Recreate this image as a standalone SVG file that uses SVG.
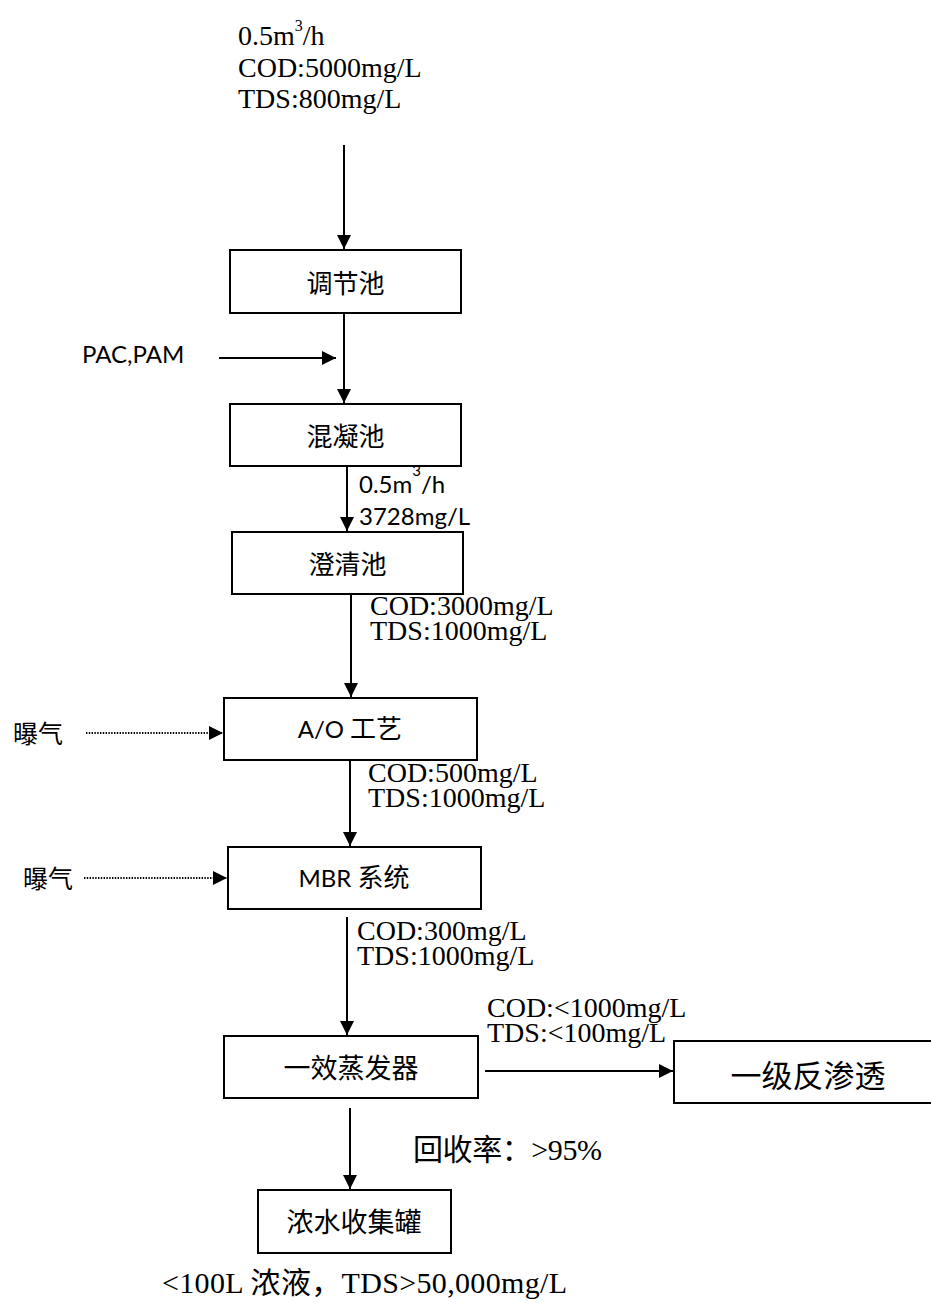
<svg xmlns="http://www.w3.org/2000/svg" width="931" height="1302" viewBox="0 0 931 1302">
<style>
.box{fill:#fff;stroke:#000;stroke-width:2}
.ln{stroke:#000;stroke-width:2;fill:none}
.dot{stroke:#000;stroke-width:1.8;fill:none;stroke-dasharray:1.4 1.4}
.ser{font-family:"Liberation Serif","Noto Sans CJK SC",serif;font-size:28px;fill:#000}
.cal{font-family:Lato,"Liberation Sans",sans-serif;font-size:24px;fill:#000}
.cjk{font-family:"Noto Sans CJK SC",sans-serif;fill:#000;dominant-baseline:central}
.mix{font-family:"Liberation Serif","Noto Sans CJK SC",serif;fill:#000;dominant-baseline:central}
.lbl{font-family:Lato,"Noto Sans CJK SC",sans-serif;fill:#000;dominant-baseline:central;font-size:24px}
</style>
<defs>
<marker id="ah" markerUnits="userSpaceOnUse" markerWidth="15" markerHeight="14" refX="14" refY="7" orient="auto">
<path d="M0,0 L14,7 L0,14 z" fill="#000"/>
</marker>
</defs>
<rect width="931" height="1302" fill="#fff"/>

<g id="connectors">
<line class="ln" x1="344" y1="145" x2="344" y2="249" marker-end="url(#ah)"/>
<line class="ln" x1="344" y1="313" x2="344" y2="403" marker-end="url(#ah)"/>
<line class="ln" x1="219" y1="358" x2="336" y2="358" marker-end="url(#ah)"/>
<line class="ln" x1="347" y1="466" x2="347" y2="531" marker-end="url(#ah)"/>
<line class="ln" x1="351" y1="594" x2="351" y2="697" marker-end="url(#ah)"/>
<line class="dot" x1="86" y1="733" x2="223" y2="733" marker-end="url(#ah)"/>
<line class="ln" x1="350" y1="760" x2="350" y2="846" marker-end="url(#ah)"/>
<line class="dot" x1="84" y1="878" x2="227" y2="878" marker-end="url(#ah)"/>
<line class="ln" x1="347" y1="917" x2="347" y2="1035" marker-end="url(#ah)"/>
<line class="ln" x1="485" y1="1071" x2="673" y2="1071" marker-end="url(#ah)"/>
<line class="ln" x1="350" y1="1108" x2="350" y2="1189" marker-end="url(#ah)"/>
</g>

<g id="inflow">
<text class="ser" x="238" y="45">0.5m<tspan font-size="16" dy="-14">3</tspan><tspan dy="14">/h</tspan></text>
<text class="ser" x="238" y="77">COD:5000mg/L</text>
<text class="ser" x="238" y="108">TDS:800mg/L</text>
</g>

<g id="n-tiaojie">
<rect class="box" x="230" y="250" width="231" height="63"/>
<text class="cjk" x="345.5" y="281" font-size="26" text-anchor="middle">调节池</text>
</g>

<g id="n-pac">
<text class="cal" x="82" y="363">PAC,PAM</text>
</g>

<g id="n-hunning">
<rect class="box" x="230" y="404" width="231" height="62"/>
<text class="cjk" x="345.5" y="434" font-size="26" text-anchor="middle">混凝池</text>
</g>

<g id="lbl-1">
<text class="cal" x="359" y="493">0.5m<tspan font-size="15" dy="-17">3</tspan><tspan dy="17">/h</tspan></text>
<text class="cal" x="359" y="525">3728mg/L</text>
</g>

<g id="n-chengqing">
<rect class="box" x="232" y="532" width="231" height="62"/>
<text class="cjk" x="347.5" y="562" font-size="26" text-anchor="middle">澄清池</text>
</g>

<g id="lbl-2">
<text class="ser" x="370" y="615">COD:3000mg/L</text>
<text class="ser" x="370" y="640">TDS:1000mg/L</text>
</g>

<g id="n-aer1">
<text class="cjk" x="13" y="732" font-size="25">曝气</text>
</g>

<g id="n-ao">
<rect class="box" x="224" y="698" width="253" height="62"/>
<text class="lbl" x="350" y="728" text-anchor="middle">A/O <tspan font-size="26">工艺</tspan></text>
</g>

<g id="lbl-3">
<text class="ser" x="368" y="782">COD:500mg/L</text>
<text class="ser" x="368" y="807">TDS:1000mg/L</text>
</g>

<g id="n-aer2">
<text class="cjk" x="23" y="877" font-size="25">曝气</text>
</g>

<g id="n-mbr">
<rect class="box" x="228" y="847" width="253" height="62"/>
<text class="lbl" x="354" y="877" text-anchor="middle">MBR <tspan font-size="26">系统</tspan></text>
</g>

<g id="lbl-4">
<text class="ser" x="357" y="940">COD:300mg/L</text>
<text class="ser" x="357" y="965">TDS:1000mg/L</text>
</g>

<g id="lbl-5">
<text class="ser" x="487" y="1017">COD:&lt;1000mg/L</text>
<text class="ser" x="487" y="1042">TDS:&lt;100mg/L</text>
</g>

<g id="n-evap">
<rect class="box" x="224" y="1036" width="254" height="62"/>
<text class="cjk" x="351" y="1066" font-size="27" text-anchor="middle">一效蒸发器</text>
</g>

<g id="n-ro">
<rect class="box" x="674" y="1041" width="275" height="62"/>
<text class="cjk" x="808" y="1073" font-size="31" text-anchor="middle">一级反渗透</text>
</g>

<g id="lbl-6">
<text class="mix" x="413" y="1149" font-size="30" textLength="189" lengthAdjust="spacing">回收率：&gt;95%</text>
</g>

<g id="n-tank">
<rect class="box" x="258" y="1190" width="193" height="63"/>
<text class="cjk" x="354" y="1220" font-size="27" text-anchor="middle">浓水收集罐</text>
</g>

<g id="lbl-7">
<text class="mix" x="162" y="1282" font-size="30" textLength="405" lengthAdjust="spacing">&lt;100L 浓液，TDS&gt;50,000mg/L</text>
</g>
</svg>
